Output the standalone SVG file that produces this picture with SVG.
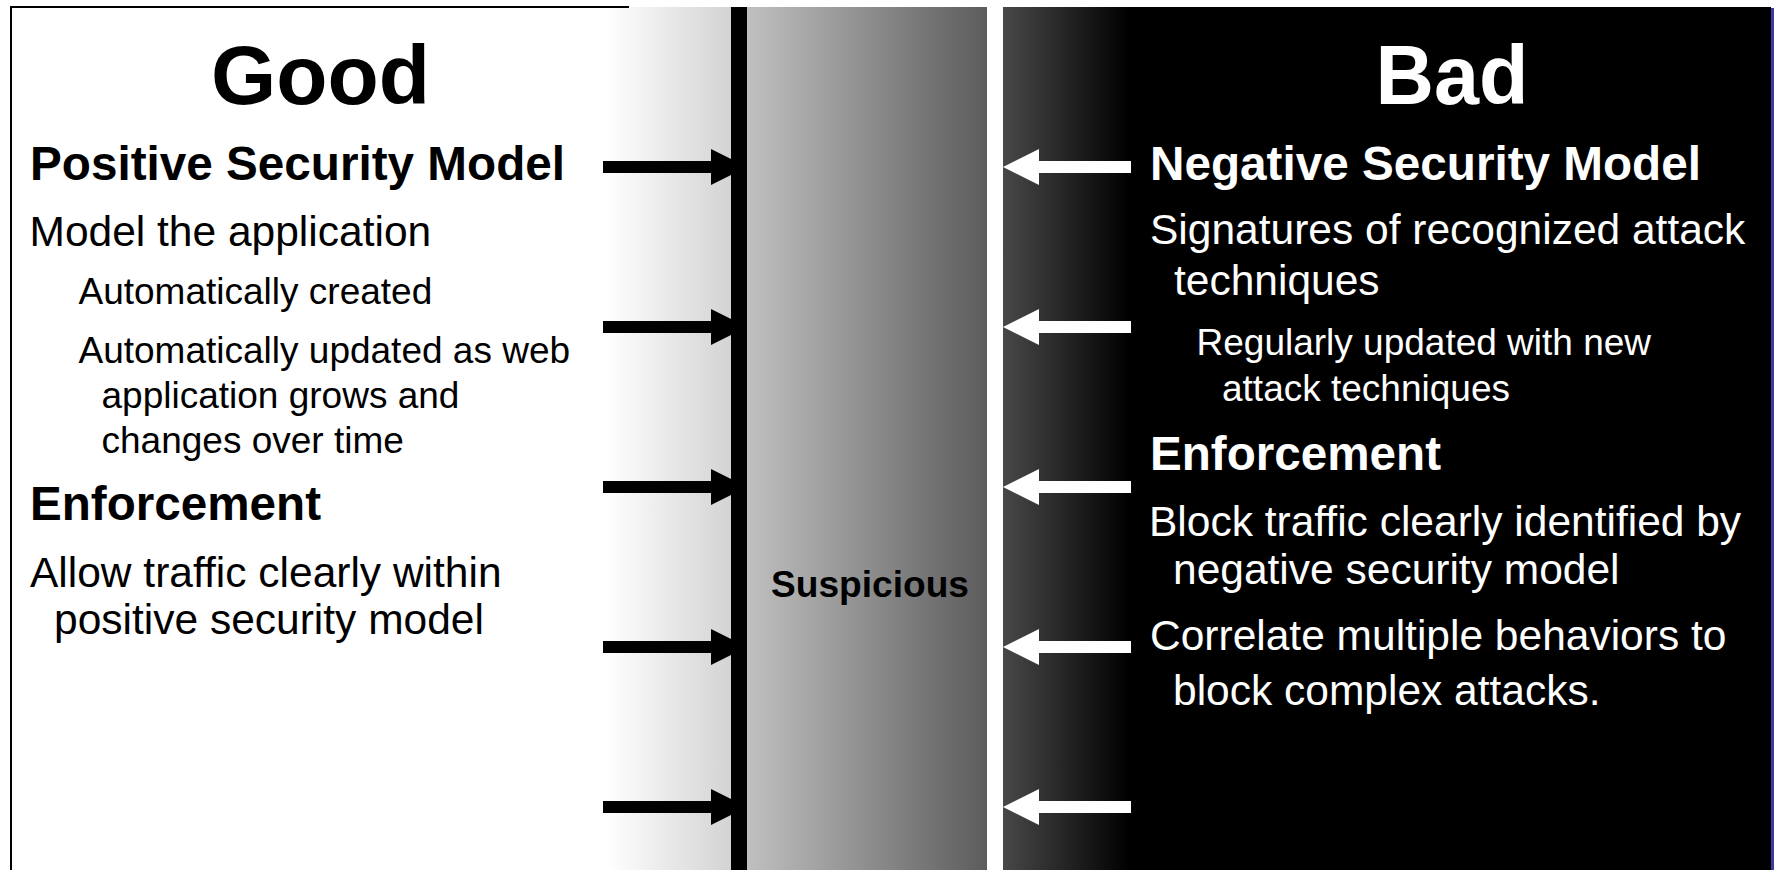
<svg xmlns="http://www.w3.org/2000/svg" width="1774" height="870" viewBox="0 0 1774 870">
  <style>
    text { font-family: "Liberation Sans", Arial, Helvetica, sans-serif; }
    .title { font-size: 84px; font-weight: bold; text-anchor: middle; }
    .head { font-size: 47.5px; font-weight: bold; }
    .body { font-size: 42.5px; }
    .sub { font-size: 37px; }
    .dark { fill: #000000; }
    .light { fill: #ffffff; }
    .label { font-size: 37px; font-weight: bold; fill: #000000; }
    .shaft-black { stroke: #000000; stroke-width: 12; fill: none; }
    .shaft-white { stroke: #ffffff; stroke-width: 12; fill: none; }
  </style>
  <defs>
    <linearGradient id="goodFade" gradientUnits="userSpaceOnUse" x1="606" y1="0" x2="731" y2="0">
      <stop offset="0" stop-color="#ffffff"/>
      <stop offset="1" stop-color="#d3d3d3"/>
    </linearGradient>
    <linearGradient id="greyFade" gradientUnits="userSpaceOnUse" x1="747" y1="0" x2="987" y2="0">
      <stop offset="0" stop-color="#c0c0c0"/>
      <stop offset="1" stop-color="#5c5c5c"/>
    </linearGradient>
    <linearGradient id="badFade" gradientUnits="userSpaceOnUse" x1="1003" y1="0" x2="1130" y2="0">
      <stop offset="0" stop-color="#484848"/>
      <stop offset="1" stop-color="#000000"/>
    </linearGradient>
    <marker id="headBlack" markerUnits="userSpaceOnUse" markerWidth="36" markerHeight="36" viewBox="0 0 36 36" refX="0" refY="18" orient="auto">
      <path d="M0,0 L36,18 L0,36 Z" fill="#000000"/>
    </marker>
    <marker id="headWhite" markerUnits="userSpaceOnUse" markerWidth="36" markerHeight="36" viewBox="0 0 36 36" refX="0" refY="18" orient="auto">
      <path d="M0,0 L36,18 L0,36 Z" fill="#ffffff"/>
    </marker>
  </defs>

  <rect x="0" y="0" width="1774" height="870" fill="#ffffff"/>

  <!-- Good side: white panel fading to light grey -->
  <g id="panel-good">
    <rect x="11" y="7" width="720" height="863" fill="#ffffff"/>
    <rect x="606" y="7" width="125" height="863" fill="url(#goodFade)"/>
    <line x1="10" y1="7" x2="629" y2="7" stroke="#000000" stroke-width="2"/>
    <line x1="11" y1="6" x2="11" y2="870" stroke="#000000" stroke-width="2"/>
    <text class="title dark" x="320.5" y="104" textLength="219" lengthAdjust="spacingAndGlyphs">Good</text>
    <text class="head dark" x="30" y="179.5" textLength="535" lengthAdjust="spacingAndGlyphs">Positive Security Model</text>
    <text class="body dark" x="29.5" y="245.5">Model the application</text>
    <text class="sub dark" x="78.5" y="304">Automatically created</text>
    <text class="sub dark" x="78.5" y="363">Automatically updated as web</text>
    <text class="sub dark" x="101.5" y="408">application grows and</text>
    <text class="sub dark" x="101.5" y="452.5">changes over time</text>
    <text class="head dark" x="30" y="520" textLength="291" lengthAdjust="spacingAndGlyphs">Enforcement</text>
    <text class="body dark" x="30" y="587">Allow traffic clearly within</text>
    <text class="body dark" x="54" y="634">positive security model</text>
  </g>

  <!-- Solid barrier between good and suspicious traffic -->
  <g id="barrier">
    <rect x="731" y="7" width="16" height="863" fill="#000000"/>
  </g>

  <!-- Suspicious zone: grey fade -->
  <g id="panel-suspicious">
    <rect x="747" y="7" width="240" height="863" fill="url(#greyFade)"/>
    <text class="label" x="771" y="597" textLength="198" lengthAdjust="spacingAndGlyphs">Suspicious</text>
  </g>

  <!-- Bad side: dark fade into black -->
  <g id="panel-bad">
    <rect x="1003" y="7" width="768" height="863" fill="#000000"/>
    <rect x="1003" y="7" width="127" height="863" fill="url(#badFade)"/>
    <rect x="1771" y="8" width="3" height="862" fill="#3c3ca0"/>
    <text class="title light" x="1452" y="103.5" textLength="153" lengthAdjust="spacingAndGlyphs">Bad</text>
    <text class="head light" x="1150" y="179.5" textLength="551" lengthAdjust="spacingAndGlyphs">Negative Security Model</text>
    <text class="body light" x="1150" y="244">Signatures of recognized attack</text>
    <text class="body light" x="1174" y="295">techniques</text>
    <text class="sub light" x="1196.5" y="355">Regularly updated with new</text>
    <text class="sub light" x="1222" y="400.5">attack techniques</text>
    <text class="head light" x="1150" y="470" textLength="291" lengthAdjust="spacingAndGlyphs">Enforcement</text>
    <text class="body light" x="1149" y="536">Block traffic clearly identified by</text>
    <text class="body light" x="1173" y="583.5">negative security model</text>
    <text class="body light" x="1150" y="649.5">Correlate multiple behaviors to</text>
    <text class="body light" x="1173" y="705">block complex attacks.</text>
  </g>

  <!-- Traffic arrows pushing toward the suspicious zone from both sides -->
  <g id="connectors">
    <line class="shaft-black" x1="603" y1="167" x2="711" y2="167" marker-end="url(#headBlack)"/>
    <line class="shaft-black" x1="603" y1="327" x2="711" y2="327" marker-end="url(#headBlack)"/>
    <line class="shaft-black" x1="603" y1="487" x2="711" y2="487" marker-end="url(#headBlack)"/>
    <line class="shaft-black" x1="603" y1="647" x2="711" y2="647" marker-end="url(#headBlack)"/>
    <line class="shaft-black" x1="603" y1="807" x2="711" y2="807" marker-end="url(#headBlack)"/>
    <line class="shaft-white" x1="1131" y1="167" x2="1039" y2="167" marker-end="url(#headWhite)"/>
    <line class="shaft-white" x1="1131" y1="327" x2="1039" y2="327" marker-end="url(#headWhite)"/>
    <line class="shaft-white" x1="1131" y1="487" x2="1039" y2="487" marker-end="url(#headWhite)"/>
    <line class="shaft-white" x1="1131" y1="647" x2="1039" y2="647" marker-end="url(#headWhite)"/>
    <line class="shaft-white" x1="1131" y1="807" x2="1039" y2="807" marker-end="url(#headWhite)"/>
  </g>
  <!-- keep the barrier above the black arrow tips -->
  <use href="#barrier"/>
</svg>
